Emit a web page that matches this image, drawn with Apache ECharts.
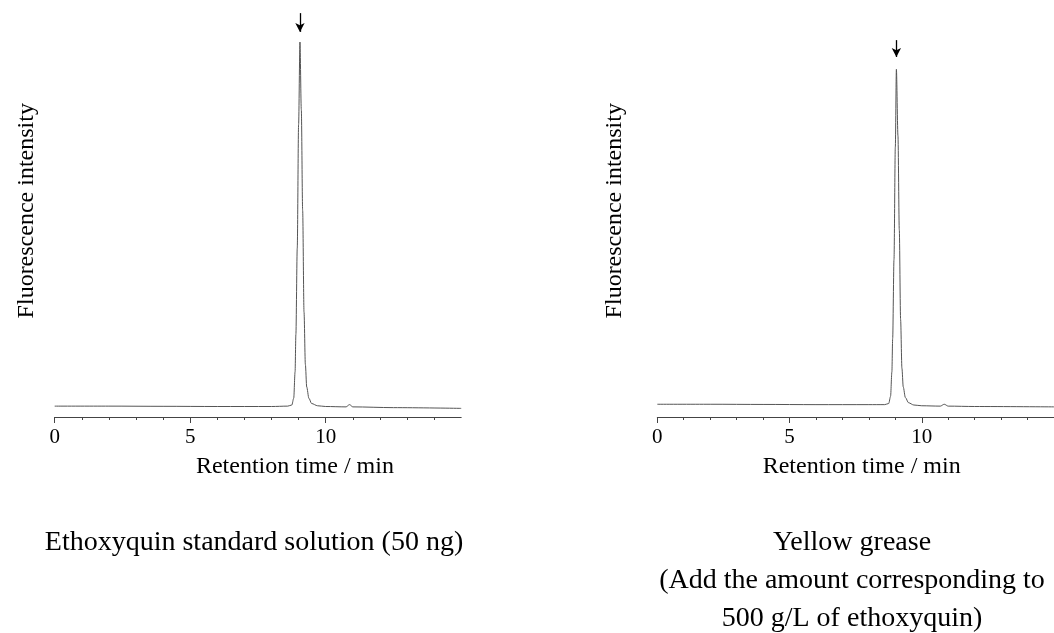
<!DOCTYPE html>
<html>
<head>
<meta charset="utf-8">
<title>Ethoxyquin chromatograms</title>
<script src="https://cdn.jsdelivr.net/npm/echarts@6/dist/echarts.min.js"></script>
<style>
  html, body { margin: 0; padding: 0; background: #fff; }
  #chart { width: 1054px; height: 633px; }
</style>
</head>
<body>
<div id="chart"></div>
<script>
// retention time (min) / fluorescence (relative units)
const stdTime = [0, 2, 4, 6, 8, 8.6, 8.75, 8.82, 8.87, 8.9, 8.95, 9.0, 9.05, 9.1, 9.15, 9.2, 9.25, 9.3, 9.38, 9.48, 9.7, 10.0, 10.75, 10.88, 11.0, 12.5, 15];
const stdSignal = [2.9, 2.9, 2.85, 2.8, 2.8, 2.9, 3.2, 5, 12, 22, 45, 78, 100, 82, 55, 28, 14, 8, 5, 3.6, 3.0, 2.8, 2.7, 3.3, 2.7, 2.5, 2.3];

const greaseTime = [0, 2, 4, 6, 8, 8.6, 8.75, 8.82, 8.87, 8.9, 8.95, 9.0, 9.04, 9.1, 9.15, 9.2, 9.25, 9.3, 9.38, 9.5, 9.7, 10.0, 10.7, 10.85, 11.0, 12.0, 15];
const greaseSignal = [3.4, 3.4, 3.35, 3.3, 3.3, 3.3, 3.6, 5.5, 12, 21, 42, 72, 92.7, 75, 50, 26, 13, 8, 5.2, 3.8, 3.2, 3.0, 2.9, 3.4, 2.9, 2.8, 2.7];

// peak markers (time, arrow from, arrow to)
const stdArrow = [9.05, 107.7, 102.7];
const greaseArrow = [9.04, 100.5, 96];

const majorTicks = [0, 5, 10];

const xName = "Retention time / min";
const yName = "Fluorescence intensity";
const captionLeft = "Ethoxyquin standard solution (50 ng)";
const captionRight = "Yellow grease\n(Add the amount corresponding to\n500 g/L of ethoxyquin)";

const font = "'Liberation Serif', 'Times New Roman', serif";

function toPairs(xs, ys) {
  return xs.map((x, i) => [x, ys[i]]);
}

function xAxisOf(gridIndex, namePad) {
  return {
    type: "value",
    gridIndex: gridIndex,
    min: 0,
    max: 15,
    interval: 5,
    name: xName,
    nameLocation: "middle",
    nameGap: 38,
    nameTextStyle: {
      fontFamily: font,
      fontSize: 24,
      color: "#000",
      padding: [0, 0, 0, namePad],
    },
    axisLine: { lineStyle: { color: "#444", width: 1 } },
    axisTick: { customValues: majorTicks, length: 6, lineStyle: { color: "#444" } },
    minorTick: { show: true, splitNumber: 5, length: 3, lineStyle: { color: "#444" } },
    axisLabel: {
      customValues: majorTicks,
      fontFamily: font,
      fontSize: 21,
      color: "#000",
      margin: 10,
    },
    splitLine: { show: false },
    minorSplitLine: { show: false },
  };
}

function yAxisOf(gridIndex, gap) {
  return {
    type: "value",
    gridIndex: gridIndex,
    min: 0,
    max: 110,
    name: yName,
    nameLocation: "middle",
    nameGap: gap,
    nameTextStyle: {
      fontFamily: font,
      fontSize: 24,
      color: "#000",
    },
    axisLine: { show: false },
    axisTick: { show: false },
    axisLabel: { show: false },
    splitLine: { show: false },
  };
}

function seriesOf(index, xs, ys, arrow) {
  return {
    type: "line",
    xAxisIndex: index,
    yAxisIndex: index,
    data: toPairs(xs, ys),
    smooth: 0.3,
    smoothMonotone: "x",
    symbol: "none",
    lineStyle: { color: "#555", width: 1 },
    silent: true,
    markLine: {
      silent: true,
      symbol: ["none", "arrow"],
      symbolSize: [7, 9],
      label: { show: false },
      lineStyle: { color: "#000", width: 1.3, type: "solid" },
      data: [[{ coord: [arrow[0], arrow[1]] }, { coord: [arrow[0], arrow[2]] }]],
    },
  };
}

const chart = echarts.init(document.getElementById("chart"));

chart.setOption({
  animation: false,
  grid: [
    { left: 54.7, width: 406.5, top: 4.5, bottom: 216 },
    { left: 657.3, width: 408, top: 4.5, bottom: 216 },
  ],
  title: [
    {
      text: captionLeft,
      left: 249,
      top: 519,
      textAlign: "center",
      textStyle: { fontFamily: font, fontSize: 28, fontWeight: "normal", color: "#000", lineHeight: 38 },
    },
    {
      text: captionRight,
      left: 847,
      top: 519,
      textAlign: "center",
      textStyle: { fontFamily: font, fontSize: 28, fontWeight: "normal", color: "#000", lineHeight: 38 },
    },
  ],
  xAxis: [xAxisOf(0, 74), xAxisOf(1, 12)],
  yAxis: [yAxisOf(0, 16), yAxisOf(1, 31)],
  series: [
    seriesOf(0, stdTime, stdSignal, stdArrow),
    seriesOf(1, greaseTime, greaseSignal, greaseArrow),
  ],
});

window.addEventListener("resize", () => chart.resize());
</script>
</body>
</html>
